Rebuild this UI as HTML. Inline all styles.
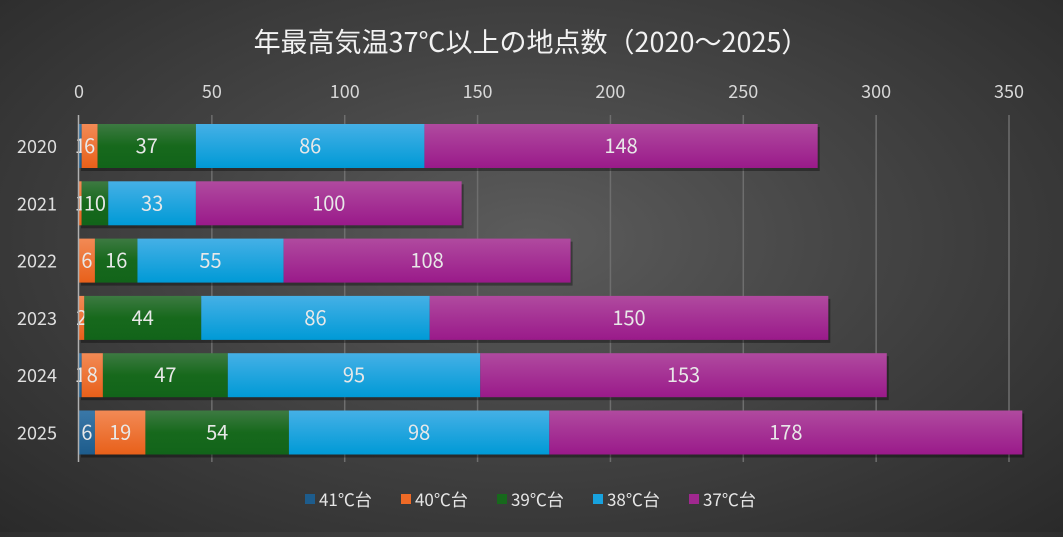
<!DOCTYPE html>
<html><head><meta charset="utf-8"><style>
html,body{margin:0;padding:0;}
body{width:1063px;height:532px;overflow:hidden;background:radial-gradient(ellipse at 50% 45%,#5c5c5c 0%,#444 45%,#2a2a2a 100%);font-family:"Noto Sans CJK JP",sans-serif;}
</style></head><body>
<svg width="1063" height="532" xmlns="http://www.w3.org/2000/svg" style="font-family:'Noto Sans CJK JP',sans-serif">
<defs>
<linearGradient id="g0" x1="0" y1="0" x2="0" y2="1"><stop offset="0" stop-color="#3a78a8"/><stop offset="1" stop-color="#1d5c8c"/></linearGradient>
<linearGradient id="g1" x1="0" y1="0" x2="0" y2="1"><stop offset="0" stop-color="#f28a55"/><stop offset="1" stop-color="#e8601a"/></linearGradient>
<linearGradient id="g2" x1="0" y1="0" x2="0" y2="1"><stop offset="0" stop-color="#3d7a42"/><stop offset="0.5" stop-color="#17691c"/><stop offset="1" stop-color="#12641a"/></linearGradient>
<linearGradient id="g3" x1="0" y1="0" x2="0" y2="1"><stop offset="0" stop-color="#45b0e6"/><stop offset="1" stop-color="#009ad6"/></linearGradient>
<linearGradient id="g4" x1="0" y1="0" x2="0" y2="1"><stop offset="0" stop-color="#b04a9f"/><stop offset="1" stop-color="#9a1a8a"/></linearGradient>
</defs>
<text x="531" y="52" fill="#f2f2f2" font-size="27" text-anchor="middle">年最高気温37℃以上の地点数（2020～2025）</text>
<g stroke="#6e6e6e" stroke-width="1.5" id="grid"></g>
<g fill="#d8d8d8" font-size="18" text-anchor="middle" id="ticks"></g>
<g id="bars"></g>
<line x1="78.5" y1="115" x2="78.5" y2="462" stroke="#b0b0b0" stroke-width="1.5"/>
<g font-size="17" fill="#e6e6e6">
<rect x="305" y="494" width="10" height="10" fill="#1d5c8c"/><text x="319" y="506">41℃台</text>
<rect x="401" y="494" width="10" height="10" fill="#ee6a26"/><text x="415" y="506">40℃台</text>
<rect x="497" y="494" width="10" height="10" fill="#17691c"/><text x="511" y="506">39℃台</text>
<rect x="593" y="494" width="10" height="10" fill="#18a2de"/><text x="607" y="506">38℃台</text>
<rect x="689" y="494" width="10" height="10" fill="#a0288f"/><text x="703" y="506">37℃台</text>
</g>
</svg>
<script>
var ns="http://www.w3.org/2000/svg",x0=79,s=930/350;
function el(t,a,p,txt){var e=document.createElementNS(ns,t);for(var k in a)e.setAttribute(k,a[k]);if(txt!=null)e.textContent=txt;p.appendChild(e);return e;}
var G=document.getElementById('grid'),T=document.getElementById('ticks'),B=document.getElementById('bars');
for(var v=0;v<=350;v+=50){var x=x0+v*s;if(v>0)el('line',{x1:x,y1:115,x2:x,y2:462},G);el('text',{x:x,y:98},T,v);}
var data=[["2020",[1,6,37,86,148]],["2021",[0,1,10,33,100]],["2022",[0,6,16,55,108]],["2023",[0,2,44,86,150]],["2024",[1,8,47,95,153]],["2025",[6,19,54,98,178]]];
data.forEach(function(r,i){var yc=146+i*57.3,y=yc-22,acc=0;
el('text',{x:37,y:yc+7,fill:'#e0e0e0','font-size':18,'text-anchor':'middle'},B,r[0]);
el('rect',{x:x0+2,y:y+3,width:r[1].reduce(function(a,b){return a+b},0)*s,height:44,fill:'rgba(0,0,0,0.35)'},B);
r[1].forEach(function(v,j){if(v>0){var x=x0+acc*s,w=v*s;el('rect',{x:x,y:y,width:w,height:44,fill:'url(#g'+j+')'},B);
el('text',{x:x+w/2,y:yc+7,fill:'#e8e8e8','font-size':20,'text-anchor':'middle'},B,v);}acc+=v;});});
</script>
</body></html>
